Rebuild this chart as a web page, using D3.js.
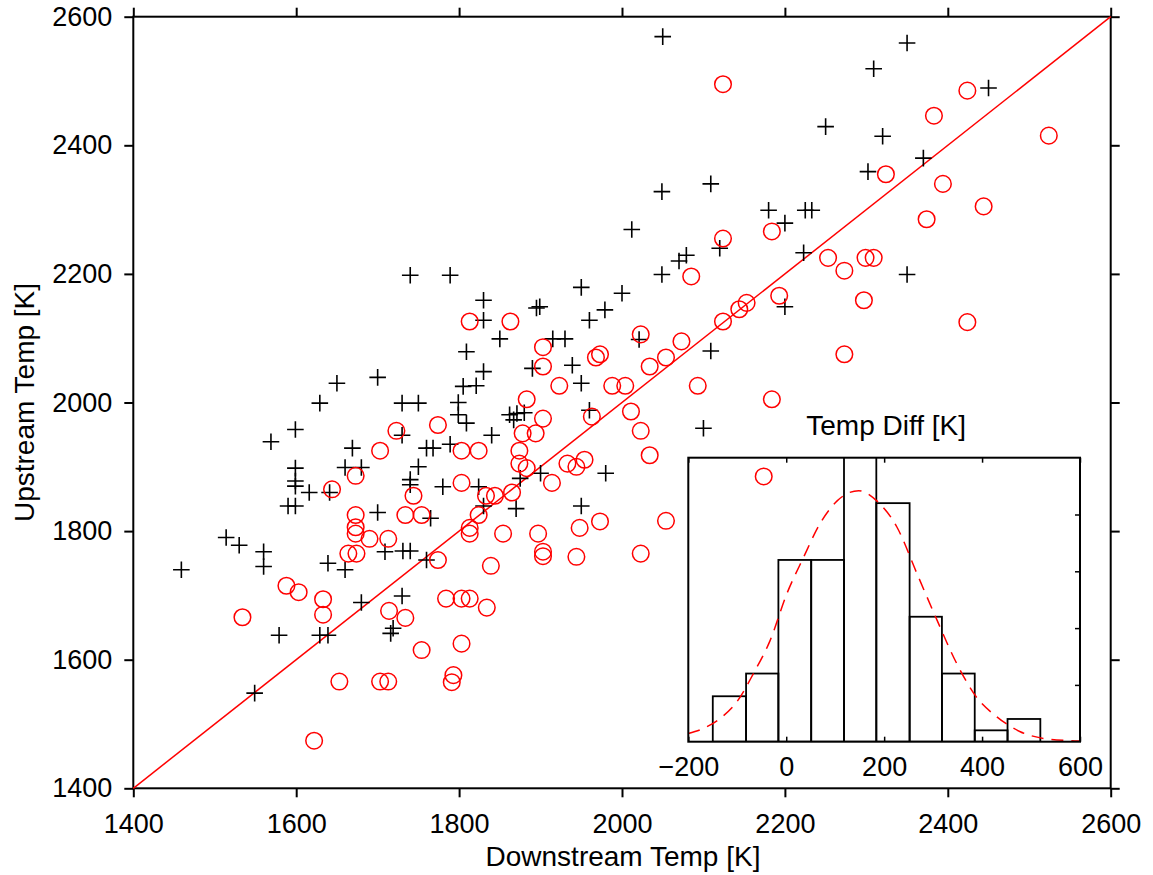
<!DOCTYPE html>
<html>
<head>
<meta charset="utf-8">
<script src="https://cdn.jsdelivr.net/npm/d3@7"></script>
<style>
  html, body { margin: 0; padding: 0; background: #fff; }
  svg { display: block; }
  text { font-family: "Liberation Sans", Arial, Helvetica, sans-serif; fill: #000; }
</style>
</head>
<body>
<svg id="chart" width="1153" height="875"></svg>
<script>
// ---------------- data ----------------
const xTicks = [1400, 1600, 1800, 2000, 2200, 2400, 2600];
const yTicks = [1400, 1600, 1800, 2000, 2200, 2400, 2600];

// "+" series (downstream, upstream)
const plusDown = [1599,1569,1669,1599,1660,1680,1599,1599,1616,1641,1590,1599,1700,1514,1530,1560,1560,1459,1639,1660,1709,1680,1579,1629,1639,1549,
  1650,1629,1740,1789,1950,2000,1830,1895,1899,1979,1960,1830,1850,1915,1930,1809,1830,1890,1939,1700,1805,1821,1950,1730,1750,1799,1799,1809,
  1862,1871,1867,1880,1960,1730,1840,1760,1768,1789,1750,1740,1740,1780,1824,1875,1900,1980,1830,1870,1765,1950,1731,1740,1760,1730,1719,1716,
  2049,2109,2180,2225,2233,2200,2012,2079,2070,2120,2223,2049,2200,2021,2109,2100,2350,2309,2450,2320,2370,2302,2350,2050,2250];
const plusUp = [1958,1939,1929,1898,1899,1899,1878,1870,1860,1860,1839,1839,1829,1790,1778,1768,1745,1740,1750,1740,1768,1689,1638,1638,1638,1548,
  2030,1999,2198,2198,2179,2170,2159,2147,2149,2144,2128,2128,2099,2099,2099,2079,2048,2053,2058,2039,2025,2026,2030,1999,1999,2000,1981,1968,
  1981,1983,1973,1984,1988,1949,1949,1929,1929,1935,1900,1880,1872,1869,1869,1882,1890,1890,1839,1835,1820,1839,1769,1769,1755,1699,1649,1641,
  2328,2340,2299,2299,2299,2279,2269,2229,2220,2240,2233,2199,2149,2098,2080,1960,2559,2519,2489,2414,2380,2359,2199,2569,2429];

// "o" series (downstream, upstream)
const circDown = [1703,1673,1644,1673,1673,1673,1690,1713,1664,1674,1588,1603,1633,1633,1534,1714,1653,1703,1713,1622,
  1813,1863,1903,1903,1968,1973,1923,1988,2004,1883,1903,1963,2011,1723,1774,1878,1894,1803,1824,1874,1874,1883,1933,1944,1954,
  1803,1914,1744,1833,1844,1865,1734,1754,1824,1813,1813,1854,1897,1948,1973,1903,1903,1944,1839,1774,1784,1803,1813,1834,1734,
  1803,1754,1793,1791,2124,2184,2085,2253,2273,2299,2309,2193,2297,2153,2144,2124,2023,2073,2054,2034,2093,2273,2184,2023,2034,
  2054,2023,2174,2424,2383,2524,2324,2394,2444,2374,2424,2124];
const circUp = [1925,1886,1865,1825,1806,1796,1788,1788,1765,1765,1715,1705,1694,1670,1666,1676,1566,1566,1566,1474,
  2126,2126,2086,2056,2070,2075,2026,2026,2026,2005,1975,1978,1986,1956,1965,1952,1952,1925,1925,1925,1905,1898,1905,1900,1911,
  1875,1875,1855,1855,1855,1860,1825,1825,1825,1805,1796,1796,1796,1805,1815,1768,1761,1760,1746,1755,1695,1695,1695,1681,1665,
  1625,1615,1576,1565,2255,2266,2196,2225,2205,2225,2225,2166,2159,2155,2145,2126,2106,2095,2070,2056,2026,2075,2005,1956,1918,
  1816,1765,1885,2485,2446,2415,2355,2340,2305,2285,2125,2495];

// inset histogram of temperature difference
const histEdges = [-150, -82, -16, 51, 118, 184, 252, 318, 385, 452, 519];
const histCounts = [4, 6, 16, 16, 27, 21, 11, 6, 1, 2];
const insetXTicks = [-200, 0, 200, 400, 600];
const insetYTicks = [5, 10, 15, 20];
// fitted curve
const fitDiff  = [-200,-169,-135,-101,-67,-33,1,35,69,104,148,185,226,267,308,348,389,430,478,525,580,600];
const fitCount = [0.73,1.17,2.05,3.5,6.0,8.9,13.0,16.2,19.2,21.2,22.1,21.2,18.9,14.8,10.7,6.9,3.9,2.2,0.88,0.29,0.09,0.06];

// ---------------- drawing ----------------
const svg = d3.select("#chart");
const FS = 27;      // tick labels
const FT = 28;      // titles

const L = 133.3, R = 1110.7, T = 16.7, B = 788.3;
const x = d3.scaleLinear().domain([1400, 2600]).range([L, R]);
const y = d3.scaleLinear().domain([1400, 2600]).range([B, T]);

function styleAxis(g, width) {
  g.select(".domain").remove();
  g.selectAll(".tick line").attr("stroke", "#000").attr("stroke-width", width);
  g.selectAll(".tick text").attr("font-size", FS).attr("fill", "#000")
    .style("font-family", '"Liberation Sans", Arial, Helvetica, sans-serif');
}

// main axes (ticks outward)
svg.append("g").attr("transform", `translate(0,${B})`)
  .call(d3.axisBottom(x).tickValues(xTicks).tickSize(9).tickPadding(17).tickFormat(d3.format("d")))
  .call(g => styleAxis(g, 2));
svg.append("g").attr("transform", `translate(0,${T})`)
  .call(d3.axisTop(x).tickValues(xTicks).tickSize(9).tickFormat(""))
  .call(g => styleAxis(g, 2));
svg.append("g").attr("transform", `translate(${L},0)`)
  .call(d3.axisLeft(y).tickValues(yTicks).tickSize(9).tickPadding(12).tickFormat(d3.format("d")))
  .call(g => styleAxis(g, 2));
svg.append("g").attr("transform", `translate(${R},0)`)
  .call(d3.axisRight(y).tickValues(yTicks).tickSize(9).tickFormat(""))
  .call(g => styleAxis(g, 2));

// frame
svg.append("rect").attr("x", L).attr("y", T).attr("width", R - L).attr("height", B - T)
  .attr("fill", "none").attr("stroke", "#000").attr("stroke-width", 2);

// axis titles
svg.append("text").attr("x", (L + R) / 2 + 1).attr("y", 866).attr("text-anchor", "middle")
  .attr("font-size", FT).text("Downstream Temp [K]");
svg.append("text").attr("transform", `translate(34,${(T + B) / 2}) rotate(-90)`)
  .attr("text-anchor", "middle").attr("font-size", FT).text("Upstream Temp [K]");

// 1:1 line
svg.append("line")
  .attr("x1", x(1400)).attr("y1", y(1400)).attr("x2", x(2600)).attr("y2", y(2600))
  .attr("stroke", "#ff0000").attr("stroke-width", 1.5);

// crosses
const plusData = plusDown.map((d, i) => [d, plusUp[i]]);
const s = 8.3;
svg.append("g").selectAll("path").data(plusData).join("path")
  .attr("transform", d => `translate(${x(d[0])},${y(d[1])})`)
  .attr("d", `M${-s},0H${s}M0,${-s}V${s}`)
  .attr("stroke", "#000").attr("stroke-width", 1.6).attr("fill", "none");

// circles
const circData = circDown.map((d, i) => [d, circUp[i]]);
svg.append("g").selectAll("circle").data(circData).join("circle")
  .attr("cx", d => x(d[0])).attr("cy", d => y(d[1])).attr("r", 8.3)
  .attr("fill", "none").attr("stroke", "#ff0000").attr("stroke-width", 1.5);

// ---------------- inset ----------------
const iL = 688.3, iR = 1080, iT = 457.7, iB = 741.7;
const hx = d3.scaleLinear().domain([-200, 600]).range([iL, iR]);
const hy = d3.scaleLinear().domain([0, 25]).range([iB, iT]);

svg.append("defs").append("clipPath").attr("id", "insetClip")
  .append("rect").attr("x", iL).attr("y", iT).attr("width", iR - iL).attr("height", iB - iT);

const inset = svg.append("g");
const bins = histCounts.map((c, i) => ({ x0: histEdges[i], x1: histEdges[i + 1], c }));
inset.append("g").attr("clip-path", "url(#insetClip)")
  .selectAll("rect").data(bins).join("rect")
  .attr("x", d => hx(d.x0)).attr("width", d => hx(d.x1) - hx(d.x0))
  .attr("y", d => hy(d.c)).attr("height", d => hy(0) - hy(d.c))
  .attr("fill", "none").attr("stroke", "#000").attr("stroke-width", 1.8);

const fitLine = d3.line().x((d, i) => hx(fitDiff[i])).y(d => hy(d)).curve(d3.curveMonotoneX);
inset.append("path").attr("clip-path", "url(#insetClip)")
  .attr("d", fitLine(fitCount))
  .attr("fill", "none").attr("stroke", "#ff0000").attr("stroke-width", 1.5)
  .attr("stroke-dasharray", "12,8");

// inset axes (ticks inward)
inset.append("g").attr("transform", `translate(0,${iB})`)
  .call(d3.axisBottom(hx).tickValues(insetXTicks).tickSizeInner(-5).tickSizeOuter(0).tickPadding(15)
    .tickFormat(d => d < 0 ? "\u2212" + Math.abs(d) : String(d)))
  .call(g => styleAxis(g, 1.5));
inset.append("g").attr("transform", `translate(0,${iT})`)
  .call(d3.axisTop(hx).tickValues(insetXTicks).tickSizeInner(-5).tickSizeOuter(0).tickFormat(""))
  .call(g => styleAxis(g, 1.5));
inset.append("g").attr("transform", `translate(${iR},0)`)
  .call(d3.axisRight(hy).tickValues(insetYTicks).tickSizeInner(-5).tickSizeOuter(0).tickFormat(""))
  .call(g => styleAxis(g, 1.5));

inset.append("rect").attr("x", iL).attr("y", iT).attr("width", iR - iL).attr("height", iB - iT)
  .attr("fill", "none").attr("stroke", "#000").attr("stroke-width", 2);

inset.append("text").attr("x", (iL + iR) / 2 + 2).attr("y", 435).attr("text-anchor", "middle")
  .attr("font-size", FT).text("Temp Diff [K]");
</script>
</body>
</html>
